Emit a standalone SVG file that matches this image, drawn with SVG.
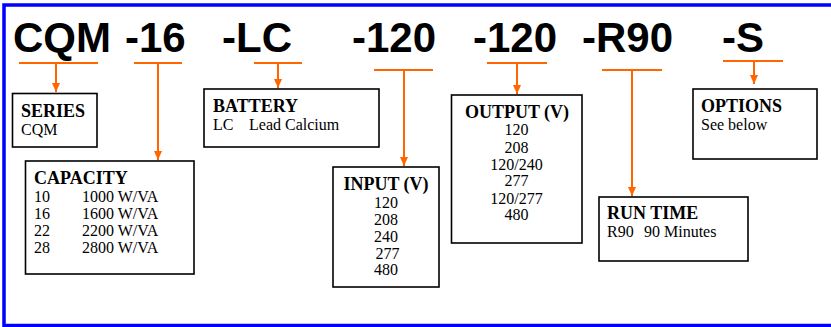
<svg xmlns="http://www.w3.org/2000/svg" width="831" height="327" viewBox="0 0 831 327">
<defs>
<marker id="ah" viewBox="0 0 9 8" refX="9" refY="4" markerWidth="9" markerHeight="8" markerUnits="userSpaceOnUse" orient="auto">
<path d="M0,0 L9,4 L0,8 Z" fill="#FF6600"/>
</marker>
<style>
.code{font-family:"Liberation Sans",Arial,sans-serif;font-weight:bold;font-size:42px;fill:#000}
.box{fill:#fff;stroke:#000;stroke-width:1.6}
.t{font-family:"Liberation Serif","Times New Roman",serif;font-weight:bold;font-size:18px;fill:#000}
.b{font-family:"Liberation Serif","Times New Roman",serif;font-size:16px;fill:#000}
.c{text-anchor:middle}
.bar{stroke:#FF6600;stroke-width:2.2;fill:none}
.arr{stroke:#FF6600;stroke-width:2;fill:none}
</style>
</defs>
<rect x="0" y="0" width="831" height="327" fill="#fff"/>
<rect x="4" y="5" width="900" height="320.5" fill="none" stroke="#0000FF" stroke-width="3.5"/>
<g id="codes">
<text class="code" x="13" y="52">CQM</text>
<text class="code" x="125" y="52">-16</text>
<text class="code" x="222" y="52">-LC</text>
<text class="code" x="352" y="52">-120</text>
<text class="code" x="473" y="52">-120</text>
<text class="code" x="582" y="52">-R90</text>
<text class="code" x="722" y="52">-S</text>
</g>
<g id="connectors">
<line class="bar" x1="19" y1="63" x2="98" y2="63"/>
<line class="arr" x1="56" y1="63" x2="56" y2="92" marker-end="url(#ah)"/>
<line class="bar" x1="134" y1="63" x2="182" y2="63"/>
<line class="arr" x1="158" y1="63" x2="158" y2="160" marker-end="url(#ah)"/>
<line class="bar" x1="254" y1="63" x2="302" y2="63"/>
<line class="arr" x1="278" y1="63" x2="278" y2="88" marker-end="url(#ah)"/>
<line class="bar" x1="374" y1="70" x2="433" y2="70"/>
<line class="arr" x1="404" y1="70" x2="404" y2="166" marker-end="url(#ah)"/>
<line class="bar" x1="487" y1="63" x2="547" y2="63"/>
<line class="arr" x1="517" y1="63" x2="517" y2="94" marker-end="url(#ah)"/>
<line class="bar" x1="602" y1="70" x2="662" y2="70"/>
<line class="arr" x1="632" y1="70" x2="632" y2="196" marker-end="url(#ah)"/>
<line class="bar" x1="723" y1="61" x2="783" y2="61"/>
<line class="arr" x1="754" y1="61" x2="754" y2="84" marker-end="url(#ah)"/>
</g>
<g id="series">
<rect class="box" x="12.5" y="93.5" width="84.5" height="53.5"/>
<text class="t" x="21" y="117">SERIES</text>
<text class="b" x="21" y="135">CQM</text>
</g>
<g id="capacity">
<rect class="box" x="25.5" y="161" width="168.5" height="113"/>
<text class="t" x="34" y="184">CAPACITY</text>
<text class="b" x="34" y="202">10</text><text class="b" x="82" y="202">1000 W/VA</text>
<text class="b" x="34" y="218.5">16</text><text class="b" x="82" y="218.5">1600 W/VA</text>
<text class="b" x="34" y="235.5">22</text><text class="b" x="82" y="235.5">2200 W/VA</text>
<text class="b" x="34" y="252.5">28</text><text class="b" x="82" y="252.5">2800 W/VA</text>
</g>
<g id="battery">
<rect class="box" x="204" y="89" width="175" height="58"/>
<text class="t" x="213" y="112">BATTERY</text>
<text class="b" x="213" y="130">LC</text>
<text class="b" x="249" y="130">Lead Calcium</text>
</g>
<g id="input">
<rect class="box" x="333" y="167" width="106" height="120"/>
<text class="t c" x="386" y="190">INPUT (V)</text>
<text class="b c" x="386" y="208">120</text>
<text class="b c" x="386" y="224.5">208</text>
<text class="b c" x="386" y="241.5">240</text>
<text class="b c" x="387.5" y="258.5">277</text>
<text class="b c" x="386" y="275">480</text>
</g>
<g id="output">
<rect class="box" x="451.5" y="95" width="130.5" height="148"/>
<text class="t c" x="517" y="118">OUTPUT (V)</text>
<text class="b c" x="516.5" y="135">120</text>
<text class="b c" x="516.5" y="152.5">208</text>
<text class="b c" x="516.5" y="169.5">120/240</text>
<text class="b c" x="516.5" y="186">277</text>
<text class="b c" x="516.5" y="203.5">120/277</text>
<text class="b c" x="516.5" y="220">480</text>
</g>
<g id="runtime">
<rect class="box" x="599" y="197" width="149" height="64"/>
<text class="t" x="607" y="219">RUN TIME</text>
<text class="b" x="607" y="237">R90</text>
<text class="b" x="644" y="237">90 Minutes</text>
</g>
<g id="options">
<rect class="box" x="693" y="89" width="124" height="70"/>
<text class="t" x="701" y="112">OPTIONS</text>
<text class="b" x="701" y="129.5">See below</text>
</g>
</svg>
